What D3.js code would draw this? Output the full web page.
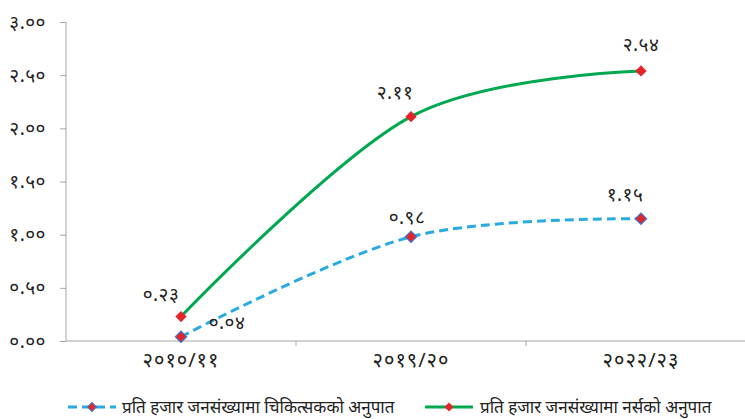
<!DOCTYPE html>
<html><head><meta charset="utf-8">
<script src="https://cdn.jsdelivr.net/npm/d3@7"></script>
<style>body{margin:0;background:#fff}text{font-family:"Noto Sans","DejaVu Sans",sans-serif;fill:#222}</style>
</head><body><svg id="c" width="745" height="419"></svg>
<script>
const categories = ["२०१०/११", "२०१९/२०", "२०२२/२३"];
const doctorValues = [0.04, 0.98, 1.15];
const nurseValues = [0.23, 2.11, 2.54];
const doctorLabels = ["०.०४", "०.९८", "१.१५"];
const nurseLabels = ["०.२३", "२.११", "२.५४"];
const yTicks = [0, 0.5, 1, 1.5, 2, 2.5, 3];
const yTickLabels = ["०.००", "०.५०", "१.००", "१.५०", "२.००", "२.५०", "३.००"];
const seriesNames = ["प्रति हजार जनसंख्यामा चिकित्सकको अनुपात", "प्रति हजार जनसंख्यामा नर्सको अनुपात"];

const svg = d3.select("#c");
const x = d3.scaleBand().domain(categories).range([66, 756]);
const y = d3.scaleLinear().domain([0, 3]).range([341, 22]);
const cx = d => x(d) + x.bandwidth() / 2;

// y axis
const yAxis = svg.append("g").attr("transform", "translate(66,0)")
  .call(d3.axisLeft(y).tickValues(yTicks).tickSize(6).tickPadding(14)
    .tickFormat((d, i) => yTickLabels[i]));
yAxis.select(".domain").attr("stroke", "#a6a6a6").attr("d", "M0,22V341");
yAxis.selectAll(".tick line").attr("stroke", "#a6a6a6");
yAxis.selectAll(".tick text").style("font-size", "19px").style("letter-spacing", "0.5px").attr("fill", "#333");

// x axis
const xAxis = svg.append("g").attr("transform", "translate(0,341)")
  .call(d3.axisBottom(x).tickSize(0).tickPadding(12));
xAxis.select(".domain").attr("stroke", "#a6a6a6").attr("d", "M66,0H745");
xAxis.selectAll(".tick text").style("font-size", "20px").style("letter-spacing", "1px").attr("fill", "#333");
const bounds = categories.slice(1).map(c => x(c));
svg.append("g").selectAll("line").data(bounds).join("line")
  .attr("x1", d => d).attr("x2", d => d).attr("y1", 341).attr("y2", 346)
  .attr("stroke", "#a6a6a6");

const line = d3.line().curve(d3.curveCardinal.tension(0))
  .x((d, i) => cx(categories[i])).y(d => y(d));

svg.append("path").attr("d", line(nurseValues)).attr("fill", "none")
  .attr("stroke", "#00a94f").attr("stroke-width", 3);
svg.append("path").attr("d", line(doctorValues)).attr("fill", "none")
  .attr("stroke", "#29abe2").attr("stroke-width", 3).attr("stroke-dasharray", "9,5");

function markers(vals, stroke) {
  svg.append("g").selectAll("path").data(vals).join("path")
    .attr("d", d3.symbol().type(d3.symbolSquare).size(64))
    .attr("transform", (d, i) => `translate(${cx(categories[i])},${y(d)}) rotate(45)`)
    .attr("fill", "#e3242b").attr("stroke", stroke).attr("stroke-width", stroke ? 1.2 : 0);
}
markers(nurseValues, null);
markers(doctorValues, "#4472c4");

// data labels
const nurseOff = [[-20, -16], [-16, -18], [0, -20]];
const doctorOff = [[46, -8], [-4, -13], [-16, -18]];
function labels(texts, vals, off) {
  svg.append("g").selectAll("text").data(texts).join("text")
    .attr("x", (d, i) => cx(categories[i]) + off[i][0])
    .attr("y", (d, i) => y(vals[i]) + off[i][1])
    .attr("text-anchor", "middle").style("font-size", "19px").style("letter-spacing", "0.5px")
    .text(d => d);
}
labels(nurseLabels, nurseValues, nurseOff);
labels(doctorLabels, doctorValues, doctorOff);

// legend
const lg = svg.append("g");
lg.append("line").attr("x1", 68).attr("x2", 116).attr("y1", 407).attr("y2", 407)
  .attr("stroke", "#29abe2").attr("stroke-width", 3).attr("stroke-dasharray", "9,5");
lg.append("path").attr("d", d3.symbol().type(d3.symbolSquare).size(40))
  .attr("transform", "translate(92,407) rotate(45)").attr("fill", "#e3242b").attr("stroke", "#4472c4");
lg.append("text").attr("x", 122).attr("y", 413).style("font-size", "17px").text(seriesNames[0]);
lg.append("line").attr("x1", 425).attr("x2", 473).attr("y1", 407).attr("y2", 407)
  .attr("stroke", "#00a94f").attr("stroke-width", 3);
lg.append("path").attr("d", d3.symbol().type(d3.symbolSquare).size(40))
  .attr("transform", "translate(449,407) rotate(45)").attr("fill", "#e3242b");
lg.append("text").attr("x", 480).attr("y", 413).style("font-size", "17px").text(seriesNames[1]);
</script></body></html>
